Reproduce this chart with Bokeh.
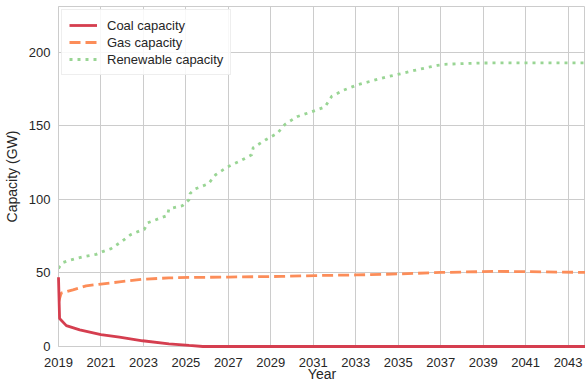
from bokeh.plotting import figure
from bokeh.models import Range1d, FixedTicker, Legend, LegendItem
from bokeh.embed import file_html
from bokeh.resources import INLINE

# Capacity series (GW) by year
coal_years = [2019.0, 2019.05, 2019.37, 2020.0, 2021.0, 2021.87, 2022.96,
              2024.2, 2025.15, 2025.8, 2043.9]
coal_gw = [47.0, 19.0, 14.2, 11.3, 8.1, 6.3, 3.9, 1.8, 0.7, 0.0, 0.0]

gas_years = [2019.0, 2019.06, 2019.13, 2019.68, 2020.3, 2021.0, 2021.87,
             2022.96, 2024.2, 2025.15, 2027.0, 2029.5, 2031.1, 2033.0,
             2035.0, 2037.0, 2039.5, 2041.0, 2043.9]
gas_gw = [30.0, 33.0, 36.3, 38.5, 41.2, 42.4, 43.9, 45.7, 46.6, 46.9, 47.2,
          47.6, 48.2, 48.6, 49.3, 50.3, 51.0, 50.9, 50.3]

renew_years = [2019.0, 2019.06, 2019.2, 2019.5, 2019.8, 2020.15, 2020.77,
               2021.08, 2021.48, 2021.94, 2022.4, 2022.8, 2023.04, 2023.2,
               2023.82, 2024.13, 2024.2, 2024.84, 2025.15, 2025.2, 2025.43,
               2026.06, 2026.4, 2026.95, 2027.5, 2028.1, 2028.17, 2028.74,
               2029.3, 2029.68, 2030.23, 2030.93, 2031.55, 2031.7, 2031.87,
               2032.42, 2033.12, 2033.74, 2034.44, 2035.14, 2035.77, 2036.48,
               2036.84, 2037.18, 2038.2, 2038.9, 2040.0, 2043.9]
renew_gw = [53.0, 54.5, 57.0, 58.5, 59.7, 61.0, 62.6, 64.5, 66.5, 71.0, 76.0,
            78.4, 79.5, 84.0, 87.4, 89.0, 93.5, 95.7, 99.8, 104.0, 107.0,
            110.6, 116.7, 121.9, 125.7, 130.2, 135.1, 140.3, 144.8, 151.1,
            156.1, 159.5, 162.8, 166.2, 170.0, 174.1, 178.0, 180.4, 183.1,
            185.4, 187.6, 189.9, 191.0, 191.7, 192.3, 192.6, 192.7, 192.7]

x_ticks = list(range(2019, 2045, 2))
y_ticks = [0, 50, 100, 150, 200]

FONT = "Liberation Sans"
TEXT = "#262626"
GRID = "#cccccc"

p = figure(width=585, height=384, output_backend="svg", toolbar_location=None,
           x_range=Range1d(2019, 2043.82), y_range=Range1d(0, 231),
           min_border_left=55, min_border_right=0, min_border_top=6,
           min_border_bottom=36)
p.background_fill_color = "white"
p.border_fill_color = "white"
p.outline_line_color = GRID
p.outline_line_width = 1

for ax in (p.xaxis, p.yaxis):
    ax.axis_line_color = GRID
    ax.major_tick_line_color = None
    ax.minor_tick_line_color = None
    ax.major_tick_out = 0
    ax.major_tick_in = 0
    ax.major_label_text_font = FONT
    ax.major_label_text_font_size = "13px"
    ax.major_label_text_color = TEXT
    ax.axis_label_text_font = FONT
    ax.axis_label_text_font_size = "14px"
    ax.axis_label_text_font_style = "normal"
    ax.axis_label_text_color = TEXT

p.xaxis.ticker = FixedTicker(ticks=x_ticks)
p.yaxis.ticker = FixedTicker(ticks=y_ticks)
p.xaxis.major_label_standoff = 11
p.yaxis.major_label_standoff = 8
p.xaxis.axis_label = "Year"
p.xaxis.axis_label_text_line_height = 1.0
p.xaxis.axis_label_standoff = -4
p.yaxis.axis_label = "Capacity (GW)"
p.yaxis.axis_label_standoff = 6

p.xgrid.ticker = FixedTicker(ticks=x_ticks)
p.ygrid.ticker = FixedTicker(ticks=y_ticks)
for g in (p.xgrid, p.ygrid):
    g.grid_line_color = GRID
    g.grid_line_width = 1

r_coal = p.line(coal_years, coal_gw, line_color="#d53e4f", line_width=2.8,
                level="overlay")
r_gas = p.line(gas_years, gas_gw, line_color="#fc8d59", line_width=2.8,
               line_dash="11 5")
r_ren = p.line(renew_years, renew_gw, line_color="#99d594", line_width=2.8,
               line_dash="3 5")

legend = Legend(items=[
    LegendItem(label="Coal capacity", renderers=[r_coal]),
    LegendItem(label="Gas capacity", renderers=[r_gas]),
    LegendItem(label="Renewable capacity", renderers=[r_ren]),
], location="top_left")
legend.margin = 3
legend.padding = 7
legend.spacing = 1
legend.glyph_width = 28
legend.glyph_height = 16
legend.label_height = 16
legend.label_standoff = 10
legend.label_text_font = FONT
legend.label_text_font_size = "13px"
legend.label_text_color = TEXT
legend.border_line_color = "#dddddd"
legend.border_line_width = 1
legend.background_fill_color = "white"
legend.background_fill_alpha = 0.85
p.add_layout(legend, "center")

open("out.html", "w").write(file_html(p, INLINE))
